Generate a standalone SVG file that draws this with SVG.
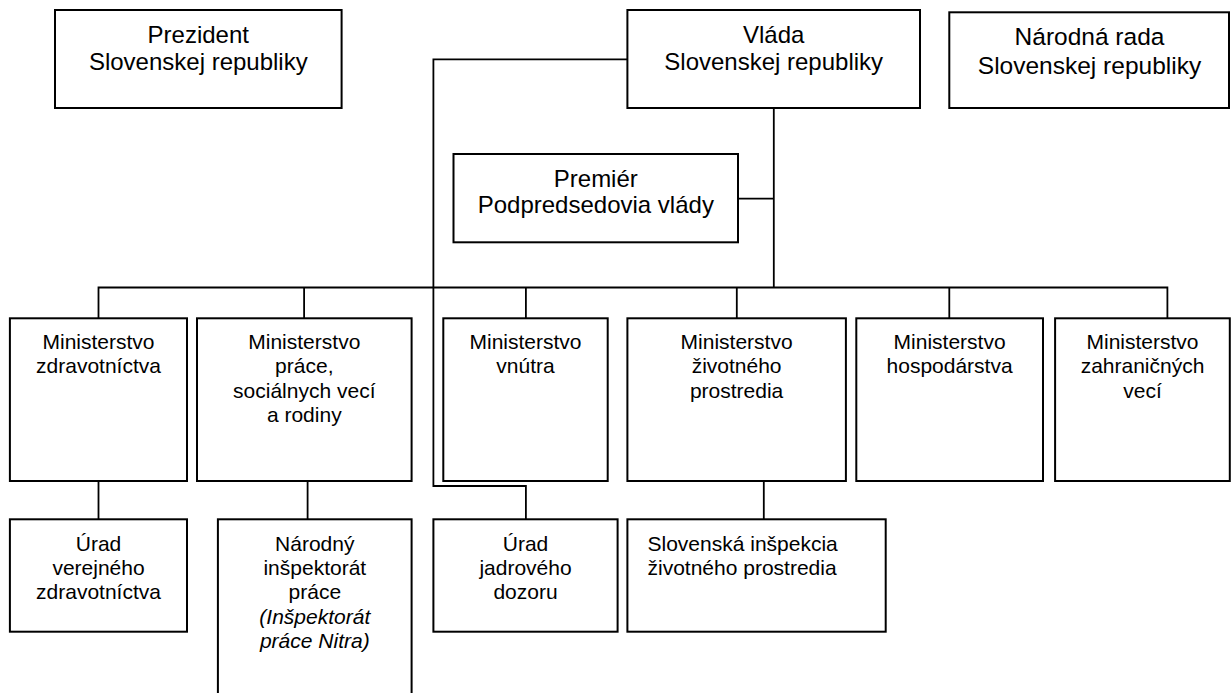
<svg xmlns="http://www.w3.org/2000/svg" width="1231" height="693" viewBox="0 0 1231 693">
<style>
.box{fill:#fff;stroke:#000;stroke-width:2}
.ln{fill:none;stroke:#000;stroke-width:1.8}
text{font-family:"Liberation Sans",Arial,sans-serif;fill:#000}
.big{font-size:24px;text-anchor:middle}
.sm{font-size:21px;text-anchor:middle}
.sl{font-size:21px;text-anchor:start}
.it{font-style:italic}
</style>
<rect width="1231" height="693" fill="#fff"/>
<g id="connectors">
<path class="ln" d="M627.4,59.3H433.4V486H525.9V519.3"/>
<path class="ln" d="M773.8,108V287.5"/>
<path class="ln" d="M738,198.7H773.8"/>
<path class="ln" d="M98.5,318.3V287.5H1167.4V318.3"/>
<path class="ln" d="M304.1,287.5V318.3M525.9,287.5V318.3M736.8,287.5V318.3M949.3,287.5V318.3"/>
<path class="ln" d="M98.5,481V519.3"/>
<path class="ln" d="M307.6,479.3V519.3"/>
<path class="ln" d="M763.8,477.7V519.3"/>
</g>
<g id="prezident">
<rect class="box" x="55" y="10" width="286.6" height="98"/>
<text class="big" x="198.3" y="42.7">Prezident</text>
<text class="big" x="198.3" y="70">Slovenskej republiky</text>
</g>
<g id="vlada">
<rect class="box" x="627.4" y="10" width="292.6" height="98"/>
<text class="big" x="773.7" y="42.7">Vláda</text>
<text class="big" x="773.7" y="70">Slovenskej republiky</text>
</g>
<g id="narodna-rada">
<rect class="box" x="949.3" y="12.3" width="279.7" height="95.7"/>
<text class="big" x="1089.5" y="45" style="font-size:24.5px">Národná rada</text>
<text class="big" x="1089.5" y="74" style="font-size:24.5px">Slovenskej republiky</text>
</g>
<g id="premier">
<rect class="box" x="453.5" y="154" width="284.5" height="88.3"/>
<text class="big" x="595.8" y="186.7">Premiér</text>
<text class="big" x="595.8" y="213.3">Podpredsedovia vlády</text>
</g>
<g id="min-zdravotnictva">
<rect class="box" x="9.9" y="318.3" width="177.1" height="162.7"/>
<text class="sm" x="98.5" y="349.3">Ministerstvo</text>
<text class="sm" x="98.5" y="373">zdravotníctva</text>
</g>
<g id="min-prace">
<rect class="box" x="197" y="318.3" width="214.6" height="162.7"/>
<text class="sm" x="304.3" y="349.3">Ministerstvo</text>
<text class="sm" x="304.3" y="373">práce,</text>
<text class="sm" x="304.3" y="397.5">sociálnych vecí</text>
<text class="sm" x="304.3" y="421.5">a rodiny</text>
</g>
<g id="min-vnutra">
<rect class="box" x="443.3" y="318.3" width="164.4" height="162.7"/>
<text class="sm" x="525.5" y="349.3">Ministerstvo</text>
<text class="sm" x="525.5" y="373">vnútra</text>
</g>
<g id="min-zp">
<rect class="box" x="627.4" y="318.3" width="218.5" height="162.7"/>
<text class="sm" x="736.6" y="349.3">Ministerstvo</text>
<text class="sm" x="736.6" y="373">životného</text>
<text class="sm" x="736.6" y="397.5">prostredia</text>
</g>
<g id="min-hospodarstva">
<rect class="box" x="856.3" y="318.3" width="186.7" height="162.7"/>
<text class="sm" x="949.6" y="349.3">Ministerstvo</text>
<text class="sm" x="949.6" y="373">hospodárstva</text>
</g>
<g id="min-zahranicnych">
<rect class="box" x="1055.1" y="318.3" width="174.7" height="162.7"/>
<text class="sm" x="1142.5" y="349.3">Ministerstvo</text>
<text class="sm" x="1142.5" y="373">zahraničných</text>
<text class="sm" x="1142.5" y="397.5">vecí</text>
</g>
<g id="urad-vz">
<rect class="box" x="9.9" y="519.3" width="177.1" height="112.4"/>
<text class="sm" x="98.5" y="550.7">Úrad</text>
<text class="sm" x="98.5" y="574.5">verejného</text>
<text class="sm" x="98.5" y="598.5">zdravotníctva</text>
</g>
<g id="narodny-inspektorat">
<rect class="box" x="217.9" y="519.3" width="193.7" height="190"/>
<text class="sm" x="314.8" y="550.7">Národný</text>
<text class="sm" x="314.8" y="574.5">inšpektorát</text>
<text class="sm" x="314.8" y="598.5">práce</text>
<text class="sm it" x="314.8" y="623.5">(Inšpektorát</text>
<text class="sm it" x="314.8" y="647.5">práce Nitra)</text>
</g>
<g id="urad-jd">
<rect class="box" x="433.4" y="519.3" width="184.2" height="112.4"/>
<text class="sm" x="525.5" y="550.7">Úrad</text>
<text class="sm" x="525.5" y="574.5">jadrového</text>
<text class="sm" x="525.5" y="598.5">dozoru</text>
</g>
<g id="sizp">
<rect class="box" x="627.4" y="519.3" width="258.3" height="112.4"/>
<text class="sl" x="647.5" y="550.7">Slovenská inšpekcia</text>
<text class="sl" x="647.5" y="574.5">životného prostredia</text>
</g>
</svg>
